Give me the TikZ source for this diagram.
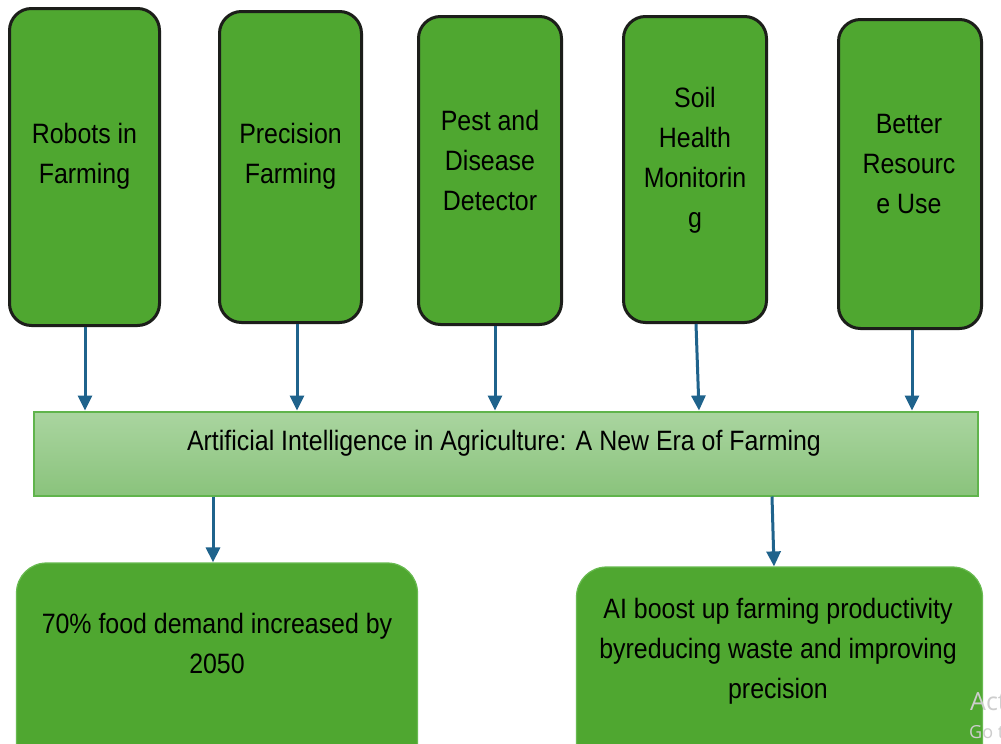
\documentclass[tikz,border=0pt]{standalone}
\usepackage{fontspec}
\setmainfont{Liberation Sans}[FakeStretch=0.89]
\newfontfamily\wmfont{Open Sans}
\usetikzlibrary{arrows.meta}

\definecolor{leaf}{RGB}{79,167,48}
\definecolor{boxedge}{RGB}{28,30,26}
\definecolor{softedge}{RGB}{104,186,80}
\definecolor{bartop}{RGB}{170,213,160}
\definecolor{barbottom}{RGB}{138,195,124}
\definecolor{baredge}{RGB}{96,180,76}
\definecolor{flow}{RGB}{31,99,140}
\definecolor{faint}{RGB}{205,205,205}

\tikzset{
  topbox/.style={draw=boxedge, line width=3pt, fill=leaf, rounded corners=22pt, inner sep=0pt},
  lowbox/.style={draw=softedge, line width=1.2pt, fill=leaf, rounded corners=30pt, inner sep=0pt},
  band/.style={draw=baredge, line width=2pt, top color=bartop, bottom color=barbottom, inner sep=0pt},
  lbl/.style={font=\fontsize{28}{40}\selectfont, align=center, inner sep=0pt, anchor=north, text=black},
  flowarrow/.style={draw=flow, line width=3pt, -{Triangle[width=14pt,length=15pt]}, flow},
  wm/.style={text=faint, inner sep=0pt, anchor=base west}
}

\begin{document}
\begin{tikzpicture}[x=1pt, y=-1pt]
  % page frame
  \useasboundingbox (0,0) rectangle (1001,744);
  \fill[white] (0,0) rectangle (1001,744);

  % five application boxes along the top
  \node[topbox, minimum width=150pt, minimum height=317pt] (b1) at (84.5,167) {};
  \node[topbox, minimum width=142pt, minimum height=311pt] (b2) at (290.5,167) {};
  \node[topbox, minimum width=143pt, minimum height=308pt] (b3) at (490,170.5) {};
  \node[topbox, minimum width=143pt, minimum height=306pt] (b4) at (695,169.5) {};
  \node[topbox, minimum width=143pt, minimum height=309pt] (b5) at (910,174) {};

  \node[lbl] (t1) at (84.5,123) {Robots in\\Farming};
  \node[lbl] (t2) at (290.5,123) {Precision\\Farming};
  \node[lbl] (t3) at (490,110) {Pest and\\Disease\\Detector};
  \node[lbl] (t4) at (695,87) {Soil\\Health\\Monitorin\\g};
  \node[lbl] (t5) at (909,114) {Better\\Resourc\\e Use};

  % central band
  \node[band, minimum width=944pt, minimum height=84pt] (bar) at (505.5,453.5) {};
  \node[lbl] (tbar) at (504,430) {Artificial Intelligence in Agriculture: A New Era of Farming};

  % outcome boxes (running off the lower edge)
  \node[lowbox, minimum width=401pt, minimum height=240pt] (bl) at (217,683) {};
  \node[lowbox, minimum width=406pt, minimum height=236pt] (br) at (779.5,685) {};

  \node[lbl] (tbl) at (217,613) {70\% food demand increased by\\2050};
  \node[lbl] (tbr) at (778,598) {AI boost up farming productivity\\byreducing waste and improving\\precision};

  % connectors into the band
  \draw[flowarrow] ([xshift=0.5pt]b1.south) -- ([xshift=0.5pt]b1.south |- bar.north);
  \draw[flowarrow] ([xshift=6.5pt]b2.south) -- ([xshift=6.5pt]b2.south |- bar.north);
  \draw[flowarrow] ([xshift=5pt]b3.south) -- ([xshift=5pt]b3.south |- bar.north);
  \draw[flowarrow] ([xshift=1pt]b4.south) -- ([xshift=4pt]b4.south |- bar.north);
  \draw[flowarrow] ([xshift=2pt]b5.south) -- ([xshift=2pt]b5.south |- bar.north);

  % connectors out of the band
  \draw[flowarrow] ([xshift=-4pt]bl.north |- bar.south) -- ([xshift=-4pt]bl.north);
  \draw[flowarrow] ([xshift=-7.5pt]br.north |- bar.south) -- ([xshift=-5.5pt]br.north);

  % faint system overlay text in the corner
  \node[wm, font=\wmfont\fontsize{25}{25}\selectfont] (wm1) at (970,710) {Act};
  \node[wm, font=\wmfont\fontsize{18}{18}\selectfont] (wm2) at (969,738) {Go t};
\end{tikzpicture}
\end{document}
